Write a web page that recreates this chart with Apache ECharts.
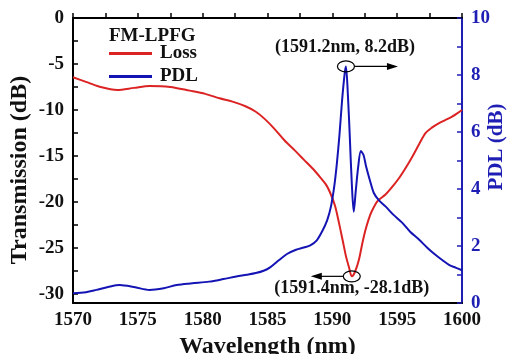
<!DOCTYPE html>
<html><head><meta charset="utf-8">
<script src="https://cdn.jsdelivr.net/npm/echarts@6/dist/echarts.min.js"></script>
<style>html,body{margin:0;padding:0;background:#fff}#c{width:508px;height:354px}</style>
</head><body><div id="c"></div>
<script>
// Loss (transmission, dB) curve
const lossWl = [1570,1571,1572,1573.4,1574.7,1575.9,1577.5,1579,1580.2,1581.3,1582.3,1583.3,1584.1,1584.8,1585.5,1586.3,1587.1,1587.8,1588.5,1589.05,1589.5,1589.8,1590.2,1590.5,1590.8,1591.05,1591.3,1591.5,1591.75,1592.05,1592.3,1592.55,1592.8,1593.05,1593.5,1594.1,1594.6,1595.15,1595.7,1596.2,1596.7,1597.2,1597.7,1598.2,1598.7,1599.2,1599.6,1600];
const lossDb = [-6.45,-6.95,-7.45,-7.83,-7.6,-7.39,-7.5,-7.9,-8.25,-8.73,-9.1,-9.6,-10.2,-11.0,-12.0,-13.3,-14.4,-15.4,-16.4,-17.3,-18.1,-18.9,-20.4,-22.2,-24.2,-25.9,-27.2,-28.1,-27.6,-26.3,-24.6,-23.1,-21.9,-21.0,-19.9,-19.2,-18.4,-17.4,-16.2,-15.0,-13.7,-12.5,-11.9,-11.45,-11.1,-10.75,-10.4,-10.0];
// PDL curve (dB)
const pdlWl = [1570,1571,1571.8,1572.7,1573.6,1574.8,1575.9,1577,1578,1579.2,1580.5,1581.6,1582.6,1583.4,1584.1,1584.7,1585.2,1585.9,1586.5,1587.2,1587.8,1588.3,1588.8,1589.2,1589.6,1589.9,1590.15,1590.35,1590.55,1590.75,1590.95,1591.05,1591.2,1591.35,1591.5,1591.65,1591.8,1592,1592.2,1592.4,1592.6,1592.9,1593.2,1593.6,1594.1,1594.7,1595.4,1596,1596.7,1597.3,1597.95,1598.5,1599,1599.5,1600];
const pdlDb = [0.34,0.38,0.46,0.56,0.63,0.55,0.46,0.52,0.63,0.69,0.75,0.84,0.93,0.99,1.05,1.13,1.25,1.51,1.72,1.87,1.95,2.02,2.2,2.5,2.9,3.4,4.1,4.9,5.9,7.1,8.05,8.3,7.3,5.8,4.2,3.2,3.9,4.8,5.33,5.2,4.8,4.3,3.86,3.6,3.39,3.1,2.81,2.5,2.22,1.95,1.69,1.5,1.34,1.24,1.15];
const xTicks = {min:1570, max:1600, step:5};
const leftTicks = {min:-31, max:0, step:5};
const rightTicks = {min:0, max:10, step:2};
const peakPt = [1591.05, 8.3];
const minPt = [1591.5, -28.1];
const peakLabel = '(1591.2nm, 8.2dB)';
const minLabel = '(1591.4nm, -28.1dB)';
const xTitle = 'Wavelength (nm)';
const yLeftTitle = 'Transmission (dB)';
const yRightTitle = 'PDL (dB)';

const FONT = 'Liberation Serif';
const RED = '#dc2323';
const BLUE = '#1414b4';
const AXBLUE = '#1e1eb4';

const chart = echarts.init(document.getElementById('c'), null, {renderer:'canvas'});
const zip = (a,b)=>a.map((v,i)=>[v,b[i]]);
const tickStyle = (col)=>({show:true, inside:true, length:5, lineStyle:{color:col, width:1.5}});
const minorStyle = (col)=>({show:true, splitNumber:2, length:5, lineStyle:{color:col, width:1.5}});
const lblStyle = (col)=>({fontFamily:FONT, fontWeight:'bold', fontSize:19, color:col});

chart.setOption({
  animation:false,
  grid:{left:73, right:46, top:18, bottom:51, show:false, containLabel:false, outerBoundsMode:'none'},
  title:{text:'FM-LPFG', left:109, top:27, padding:0, textStyle:{fontFamily:FONT, fontWeight:'bold', fontSize:19, color:'#111'}},
  legend:{orient:'vertical', left:109, top:44, padding:0, itemWidth:43, itemHeight:3, itemGap:4, icon:'rect',
    textStyle:{fontFamily:FONT, fontWeight:'bold', fontSize:19, color:'#111', padding:[0,0,0,3]},
    data:['Loss','PDL']},
  xAxis:[{type:'value', min:xTicks.min, max:xTicks.max, interval:xTicks.step,
    axisLine:{lineStyle:{color:'#000', width:2}}, axisTick:tickStyle('#000'), minorTick:minorStyle('#000'),
    splitLine:{show:false}, axisLabel:Object.assign({margin:8, formatter:(v)=>String(v)}, lblStyle('#111')),
    name:xTitle, nameLocation:'middle', nameGap:23,
    nameTextStyle:{fontFamily:FONT, fontWeight:'bold', fontSize:24, color:'#111'}},
   {type:'value', position:'top', min:xTicks.min, max:xTicks.max, interval:xTicks.step,
    axisLine:{lineStyle:{color:'#000', width:2}}, axisTick:{show:false}, axisLabel:{show:false}, splitLine:{show:false}}],
  yAxis:[{type:'value', min:leftTicks.min, max:leftTicks.max, minInterval:leftTicks.step, maxInterval:leftTicks.step,
    axisLine:{show:true, lineStyle:{color:'#000', width:2}}, axisTick:tickStyle('#000'), minorTick:minorStyle('#000'),
    splitLine:{show:false},
    axisLabel:Object.assign({margin:9, formatter:(v)=> (v % leftTicks.step === 0 ? String(v) : '')}, lblStyle('#111'))},
   {type:'value', position:'right', min:rightTicks.min, max:rightTicks.max, interval:rightTicks.step,
    axisLine:{show:true, lineStyle:{color:AXBLUE, width:2}}, axisTick:tickStyle(AXBLUE), minorTick:minorStyle(AXBLUE),
    splitLine:{show:false}, axisLabel:Object.assign({margin:9}, lblStyle(AXBLUE))}],
  series:[
    {name:'Loss', type:'line', xAxisIndex:0, yAxisIndex:0, data:zip(lossWl,lossDb), smooth:0.3, showSymbol:false,
      lineStyle:{color:RED, width:2}, itemStyle:{color:RED}},
    {name:'PDL', type:'line', xAxisIndex:0, yAxisIndex:1, data:zip(pdlWl,pdlDb), smooth:0.3, showSymbol:false,
      lineStyle:{color:BLUE, width:2}, itemStyle:{color:BLUE}}
  ]
});

function annotate(){
  const p = chart.convertToPixel({xAxisIndex:0, yAxisIndex:1}, peakPt);
  const m = chart.convertToPixel({xAxisIndex:0, yAxisIndex:0}, minPt);
  const rx = 8.5, ry = 5.5;
  const ln = {stroke:'#000', lineWidth:1.2, fill:null};
  const els = [];
  els.push({type:'text', x:20, y:170, rotation:Math.PI/2, style:{text:yLeftTitle, fontFamily:FONT, fontWeight:'bold', fontSize:24, fill:'#111', align:'center', verticalAlign:'middle'}});
  els.push({type:'text', x:497, y:147, rotation:Math.PI/2, style:{text:yRightTitle, fontFamily:FONT, fontWeight:'bold', fontSize:21, fill:AXBLUE, align:'center', verticalAlign:'middle'}});
  els.push({type:'ellipse', shape:{cx:p[0], cy:p[1], rx:rx, ry:ry}, style:ln, z:100});
  els.push({type:'line', shape:{x1:p[0]+rx, y1:p[1], x2:p[0]+44, y2:p[1]}, style:{stroke:'#000', lineWidth:1.2}, z:100});
  els.push({type:'polygon', shape:{points:[[p[0]+52,p[1]],[p[0]+41,p[1]-3.5],[p[0]+41,p[1]+3.5]]}, style:{fill:'#000'}, z:100});
  els.push({type:'text', x:p[0]-1, y:p[1]-19, style:{text:peakLabel, fontFamily:FONT, fontWeight:'bold', fontSize:18, fill:'#111', align:'center', verticalAlign:'middle'}, z:100});
  els.push({type:'ellipse', shape:{cx:m[0], cy:m[1], rx:rx, ry:ry}, style:ln, z:100});
  els.push({type:'line', shape:{x1:m[0]-rx, y1:m[1], x2:m[0]-33, y2:m[1]}, style:{stroke:'#000', lineWidth:1.2}, z:100});
  els.push({type:'polygon', shape:{points:[[m[0]-41,m[1]],[m[0]-30,m[1]-3.5],[m[0]-30,m[1]+3.5]]}, style:{fill:'#000'}, z:100});
  els.push({type:'text', x:m[0], y:m[1]+12, style:{text:minLabel, fontFamily:FONT, fontWeight:'bold', fontSize:18, fill:'#111', align:'center', verticalAlign:'middle'}, z:100});
  chart.setOption({graphic:els});
}
annotate();
</script></body></html>
